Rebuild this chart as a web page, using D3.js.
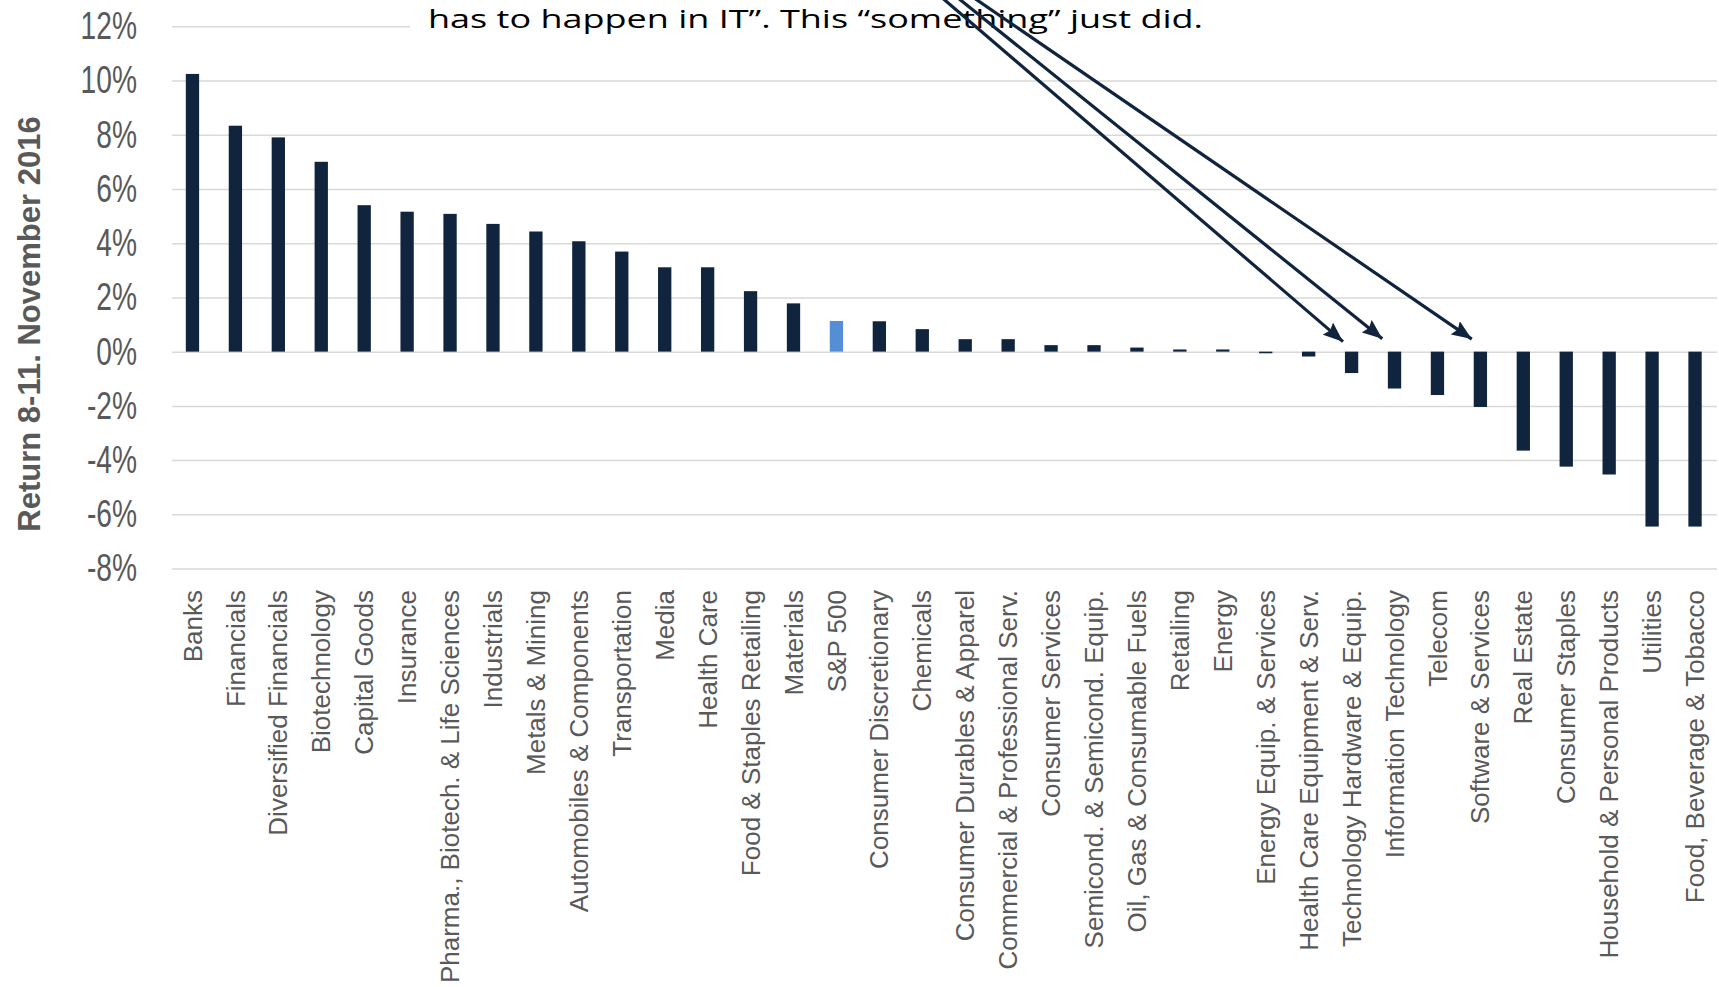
<!DOCTYPE html>
<html><head><meta charset="utf-8">
<script src="https://cdn.jsdelivr.net/npm/d3@7"></script>
<style>html,body{margin:0;padding:0;background:#fff;} svg{display:block}</style>
</head><body>
<svg id="chart" width="1719" height="987"></svg>
<script>
// ---- data ----
const categories = [
  "Banks","Financials","Diversified Financials","Biotechnology","Capital Goods","Insurance",
  "Pharma., Biotech. & Life Sciences","Industrials","Metals & Mining","Automobiles & Components",
  "Transportation","Media","Health Care","Food & Staples Retailing","Materials","S&P 500",
  "Consumer Discretionary","Chemicals","Consumer Durables & Apparel","Commercial & Professional Serv.",
  "Consumer Services","Semicond. & Semicond. Equip.","Oil, Gas & Consumable Fuels","Retailing","Energy",
  "Energy Equip. & Services","Health Care Equipment & Serv.","Technology Hardware & Equip.",
  "Information Technology","Telecom","Software & Services","Real Estate","Consumer Staples",
  "Household & Personal Products","Utilities","Food, Beverage & Tobacco"
];
const returns = [
  10.24, 8.33, 7.90, 7.00, 5.40, 5.16,
  5.08, 4.71, 4.43, 4.07,
  3.69, 3.11, 3.11, 2.23, 1.78, 1.13,
  1.12, 0.83, 0.46, 0.46,
  0.24, 0.24, 0.15, 0.08, 0.08,
  -0.06, -0.18, -0.79,
  -1.36, -1.60, -2.04, -3.65, -4.24,
  -4.53, -6.45, -6.45
];
const highlighted = ["S&P 500"];
const yTicks = [-8, -6, -4, -2, 0, 2, 4, 6, 8, 10, 12];
const yTitle = "Return 8-11. November 2016";
const annotationText = "has to happen in IT\u201D. This \u201Csomething\u201D just did.";
const arrowTargets = ["Technology Hardware & Equip.", "Information Technology", "Software & Services"];

// ---- layout ----
const W = 1719, H = 987;
const svg = d3.select("#chart");
svg.append("rect").attr("width", W).attr("height", H).attr("fill", "#fff");

const x = d3.scaleBand().domain(categories).range([171, 1716.5]).paddingInner(0.69).paddingOuter(0.345);
const y = d3.scaleLinear().domain([-8, 12]).range([568.6, 26.2]);

const navy = "#10243e", blue = "#558ed5", grey = "#595959";

// gridlines + tick labels
const gridLeft = 172, gridRight = 1717;
const yAxis = svg.append("g")
  .attr("transform", `translate(${gridLeft},0)`)
  .call(d3.axisLeft(y).tickValues(yTicks).tickSize(-(gridRight - gridLeft)).tickFormat(d => d + "%"));
yAxis.select(".domain").remove();
yAxis.selectAll(".tick line").attr("stroke", "#d9d9d9").attr("stroke-width", 1.5);
const sx = 0.73;
yAxis.selectAll(".tick text")
  .attr("font-family", "'Liberation Sans', Arial, sans-serif")
  .attr("font-size", 38.6)
  .attr("fill", grey)
  .attr("text-anchor", "end")
  .attr("transform", `scale(${sx},1)`)
  .attr("x", -(gridLeft - 137) / sx)
  .attr("dy", "0.32em");

// bars
svg.append("g").selectAll("rect")
  .data(categories.map((c, i) => ({ c, v: returns[i] })))
  .join("rect")
  .attr("x", d => x(d.c))
  .attr("width", x.bandwidth())
  .attr("y", d => y(Math.max(0, d.v)))
  .attr("height", d => Math.abs(y(d.v) - y(0)))
  .attr("fill", d => highlighted.includes(d.c) ? blue : navy);

// category labels
svg.append("g").selectAll("text")
  .data(categories)
  .join("text")
  .attr("transform", c => `translate(${x(c) + x.bandwidth() / 2},590) rotate(-90)`)
  .attr("text-anchor", "end")
  .attr("dy", "0.35em")
  .attr("font-family", "'Liberation Sans', Arial, sans-serif")
  .attr("font-size", 26)
  .attr("fill", grey)
  .text(c => c);

// y title
svg.append("text")
  .attr("transform", "translate(29,324) rotate(-90)")
  .attr("text-anchor", "middle")
  .attr("dy", "0.35em")
  .attr("font-family", "'Liberation Sans', Arial, sans-serif")
  .attr("font-weight", "bold")
  .attr("font-size", 31)
  .attr("fill", grey)
  .text(yTitle);

// annotation box (only its last line is visible)
svg.append("rect").attr("x", 410).attr("y", 0).attr("width", W - 410).attr("height", 46).attr("fill", "#fff");
svg.append("text")
  .attr("x", 428).attr("y", 28)
  .attr("font-family", "'Segoe Print', 'Comic Sans MS', 'Open Sans', sans-serif")
  .attr("font-size", 25)
  .attr("fill", "#000")
  .attr("textLength", 775)
  .attr("lengthAdjust", "spacingAndGlyphs")
  .text(annotationText);

// arrows
const defs = svg.append("defs");
defs.append("marker").attr("id", "arrowHead")
  .attr("markerUnits", "userSpaceOnUse")
  .attr("markerWidth", 20).attr("markerHeight", 16)
  .attr("refX", 20).attr("refY", 8).attr("orient", "auto")
  .append("path").attr("d", "M0,0 L20,8 L0,16 L3,8 Z").attr("fill", navy);

const arrowStarts = [[944.7, 0], [960.5, 0], [977, 0]];
const tipOffsets = [[-2.5, -4.8], [-6, -8], [-2, -8]];
arrowTargets.forEach((t, i) => {
  const tx = x(t) + x.bandwidth() / 2 + tipOffsets[i][0];
  const ty = y(0) + tipOffsets[i][1];
  const [sx0, sy0] = arrowStarts[i];
  const dx = tx - sx0, dy = ty - sy0, L = Math.hypot(dx, dy);
  const ex = tx - dx / L * 8, ey = ty - dy / L * 8;
  svg.append("line")
    .attr("x1", sx0 - dx / L * 10).attr("y1", sy0 - dy / L * 10)
    .attr("x2", ex).attr("y2", ey)
    .attr("stroke", navy).attr("stroke-width", 3.2)
    .attr("marker-end", "url(#arrowHead)");
});
</script>
</body></html>
